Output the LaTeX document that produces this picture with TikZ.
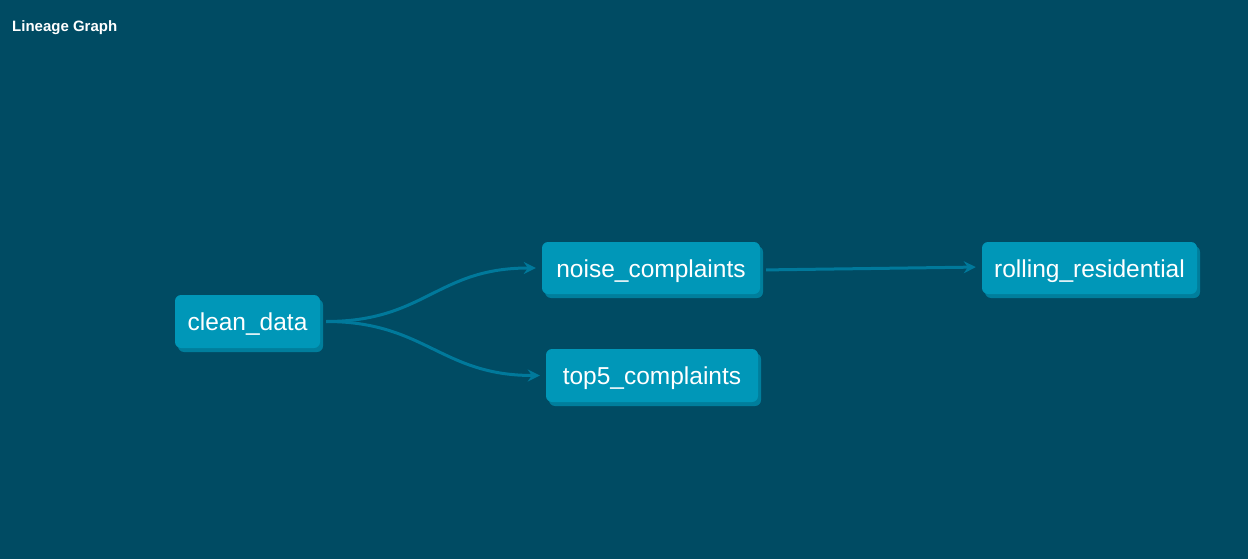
\documentclass[tikz,border=0pt]{standalone}
\usepackage{fontspec}
\setmainfont{Liberation Sans}
\usetikzlibrary{arrows.meta,shadows}
\definecolor{bgcol}{HTML}{004B63}
\definecolor{nodecol}{HTML}{0097B8}
\definecolor{shadcol}{HTML}{007E9C}
\definecolor{edgecol}{HTML}{00799B}
\begin{document}
\begin{tikzpicture}[x=1pt,y=-1pt,
  model/.style={rectangle, rounded corners=6pt, fill=nodecol, text=white,
    font=\fontsize{24.5}{27}\selectfont, inner sep=0pt, text height=20pt, text depth=2pt,
    drop shadow={shadow xshift=3pt, shadow yshift=-4pt, fill=shadcol, opacity=1}},
  link/.style={draw=edgecol, line width=3pt, -{Stealth[length=12pt,width=12pt,inset=4pt]},
    shorten <=6pt, shorten >=6pt}]
\fill[bgcol] (0,0) rectangle (1248,559);
\useasboundingbox (0,0) rectangle (1248,559);
\node[anchor=base west, inner sep=0pt, text=white, font=\bfseries\fontsize{15}{17}\selectfont] (title) at (12,31.5) {Lineage Graph};
\node[model, minimum width=145pt, minimum height=53pt] (clean) at (247.5,321.5) {clean\_data};
\node[model, minimum width=218pt, minimum height=52pt] (noise) at (651,268) {noise\_complaints};
\node[model, minimum width=212pt, minimum height=53pt] (top) at (652,375.5) {top5\_complaints};
\node[model, minimum width=215pt, minimum height=52pt] (roll) at (1089.5,268) {rolling\_residential};
\draw[link] (clean.east) .. controls +(105,0) and +(-105,0) .. (noise.west);
\draw[link] (clean.east) .. controls +(105,0) and +(-105,0) .. (top.west);
\draw[link] ([yshift=-2pt]noise.east) -- ([yshift=1pt]roll.west);
\end{tikzpicture}
\end{document}
